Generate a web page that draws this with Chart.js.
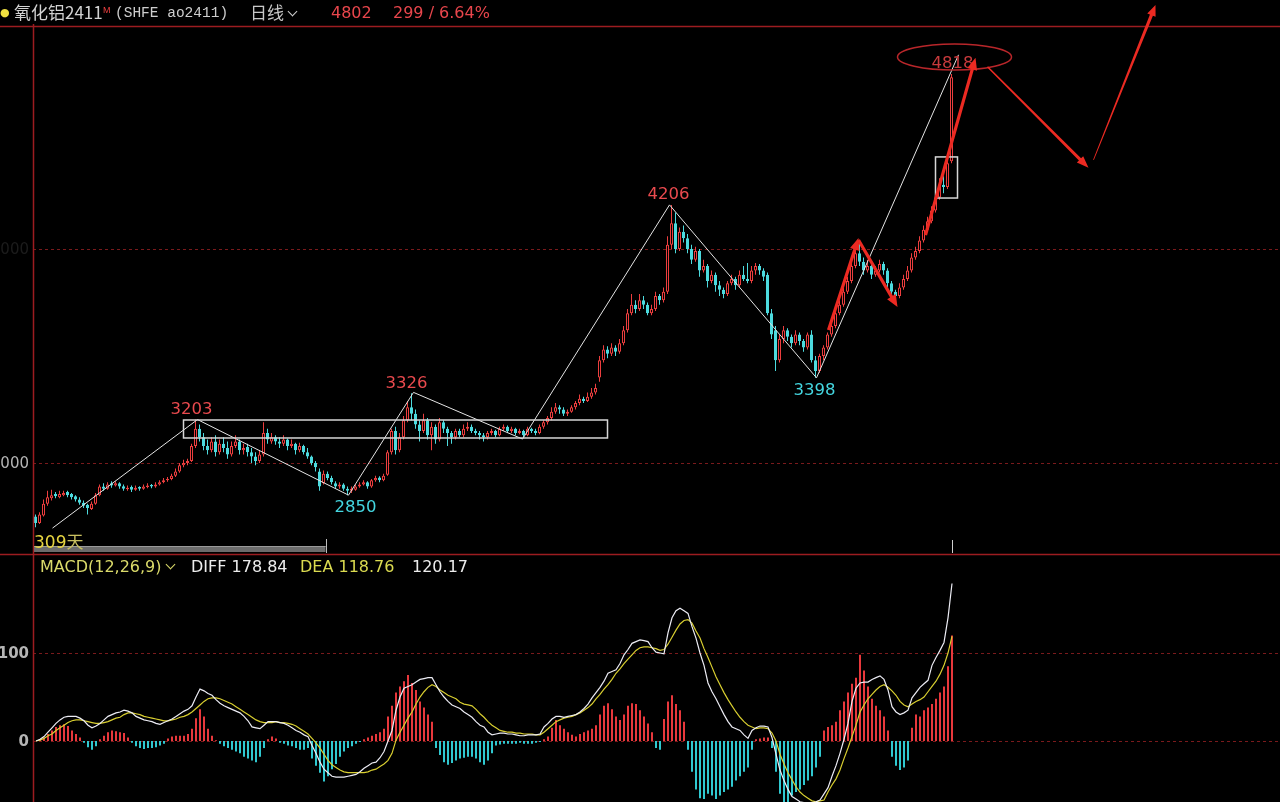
<!DOCTYPE html>
<html><head><meta charset="utf-8">
<script src="https://cdn.jsdelivr.net/npm/chart.js@4/dist/chart.umd.min.js"></script>
<style>
html,body{margin:0;padding:0;background:#000;width:1280px;height:802px;overflow:hidden;}
#wrap{position:relative;width:1280px;height:802px;background:#000;}
canvas{position:absolute;left:0;top:0;}
.t{position:absolute;white-space:nowrap;font-family:"DejaVu Sans";font-size:16px;line-height:18px;}
.chev{display:inline-block;width:6px;height:6px;border-right:1.5px solid #cfcfcf;border-bottom:1.5px solid #cfcfcf;transform:rotate(45deg);margin-left:5px;position:relative;top:-4px;}
</style></head><body>
<div id="wrap">
<canvas id="main" width="1280" height="802"></canvas>
<canvas id="macd" width="1280" height="802"></canvas>
<div class="t" style="left:0px;top:4px;color:#f0e040;font-size:11px;">●</div>
<div class="t" style="left:14px;top:3px;color:#d2d2d2;font-family:'Noto Sans CJK SC';font-size:17px;">氧化铝2411</div>
<div class="t" style="left:103px;top:1px;color:#ee4040;font-family:'Liberation Sans';font-size:9px;">M</div>
<div class="t" style="left:115px;top:4px;color:#cdcdcd;font-family:'Liberation Mono';font-size:14.5px;">(SHFE ao2411)</div>
<div class="t" style="left:250px;top:3px;color:#c8c8c8;font-family:'Noto Sans CJK SC';font-size:17px;">日线<span class="chev"></span></div>
<div class="t" style="left:331px;top:4px;color:#e8464c;">4802</div>
<div class="t" style="left:393px;top:4px;color:#e8464c;">299 / 6.64%</div>
<div class="t" style="left:40px;top:558px;color:#dada6a;">MACD(12,26,9)<span class="chev" style="border-color:#dada6a;"></span></div>
<div class="t" style="left:191px;top:558px;color:#ececec;">DIFF 178.84</div>
<div class="t" style="left:300px;top:558px;color:#dada50;">DEA 118.76</div>
<div class="t" style="left:412px;top:558px;color:#ececec;">120.17</div>
<div class="t" style="left:34px;top:532px;color:#e6d440;font-size:17px;">309<span style="font-family:'Noto Sans CJK SC';color:#c9c060;">天</span></div>
</div>
<script>
// ---- candle data (daily OHLC) ----
const opens = [
2750,2720,2755,2810,2835,2855,2840,2850,2865,2855,
2845,2830,2815,2805,2785,2810,2850,2890,2880,2905,
2895,2905,2892,2878,2888,2875,2888,2880,2888,2897,
2890,2900,2910,2920,2925,2940,2960,2990,3000,3010,
3080,3160,3120,3080,3060,3100,3050,3090,3070,3040,
3080,3100,3060,3075,3050,3030,3010,3040,3140,3100,
3120,3100,3090,3110,3080,3090,3060,3080,3050,3030,
3000,2960,2905,2950,2930,2905,2890,2900,2880,2870,
2875,2890,2900,2910,2890,2920,2932,2920,2945,3050,
3150,3060,3120,3200,3260,3230,3180,3150,3200,3130,
3170,3110,3190,3160,3140,3120,3150,3130,3160,3170,
3150,3140,3130,3120,3140,3150,3130,3160,3170,3150,
3160,3140,3150,3130,3160,3150,3140,3170,3190,3210,
3240,3260,3250,3230,3240,3260,3280,3300,3290,3310,
3330,3400,3480,3530,3510,3540,3520,3560,3620,3700,
3740,3720,3760,3740,3700,3720,3780,3760,3800,4020,
4120,4000,4080,4050,4000,3950,3990,3900,3920,3850,
3880,3830,3810,3790,3840,3860,3830,3880,3860,3850,
3900,3920,3900,3880,3700,3620,3480,3580,3620,3590,
3560,3600,3570,3540,3600,3480,3430,3500,3540,3600,
3640,3700,3740,3800,3850,3920,3980,3940,3900,3920,
3880,3900,3930,3900,3840,3800,3780,3820,3860,3900,
3960,3990,4040,4090,4130,4180,4240,4300,4290,4410];
const highs = [
2760,2770,2830,2870,2875,2865,2870,2870,2870,2860,
2850,2840,2825,2810,2820,2860,2900,2905,2910,2915,
2915,2910,2900,2895,2895,2895,2892,2900,2905,2902,
2910,2920,2930,2935,2950,2975,3000,3015,3020,3090,
3203,3180,3140,3110,3120,3130,3110,3120,3100,3100,
3130,3110,3090,3090,3070,3050,3060,3190,3160,3140,
3130,3120,3130,3115,3110,3095,3095,3085,3070,3035,
3010,2975,2965,2960,2940,2915,2910,2905,2890,2890,
2900,2910,2920,2915,2925,2940,2938,2950,3060,3160,
3170,3140,3220,3290,3326,3250,3200,3230,3210,3190,
3180,3210,3200,3170,3150,3160,3160,3180,3190,3180,
3160,3150,3140,3150,3160,3155,3170,3180,3175,3170,
3165,3160,3155,3170,3165,3160,3180,3200,3220,3260,
3280,3270,3260,3250,3270,3290,3320,3310,3330,3350,
3370,3500,3550,3545,3560,3550,3580,3640,3720,3790,
3760,3790,3780,3750,3740,3800,3790,3820,4060,4206,
4170,4100,4110,4070,4020,4010,4000,3950,3930,3900,
3890,3850,3820,3850,3880,3870,3900,3920,3935,3920,
3935,3930,3910,3890,3720,3640,3600,3640,3630,3600,
3620,3610,3580,3610,3620,3500,3510,3550,3610,3660,
3720,3760,3820,3870,3940,4010,4040,3960,3950,3930,
3920,3950,3940,3910,3850,3810,3840,3880,3920,3980,
4010,4060,4110,4150,4200,4260,4330,4340,4420,4818];
const lows = [
2700,2715,2750,2800,2825,2835,2835,2845,2840,2830,
2820,2805,2790,2760,2780,2805,2845,2870,2875,2885,
2890,2880,2870,2870,2865,2870,2870,2875,2882,2882,
2885,2895,2905,2912,2920,2935,2955,2980,2990,3005,
3070,3100,3060,3040,3050,3030,3040,3050,3020,3030,
3070,3040,3040,3030,3000,2990,3000,3030,3090,3090,
3085,3070,3080,3060,3070,3040,3050,3040,3020,2990,
2960,2870,2900,2920,2900,2880,2880,2870,2850,2860,
2870,2885,2895,2880,2885,2912,2910,2915,2940,3040,
3040,3050,3110,3190,3200,3160,3100,3140,3110,3060,
3090,3100,3140,3080,3090,3110,3120,3120,3150,3140,
3130,3110,3100,3110,3130,3120,3125,3150,3140,3140,
3130,3135,3120,3125,3140,3130,3135,3160,3180,3200,
3230,3230,3220,3220,3235,3250,3270,3280,3285,3300,
3320,3380,3470,3490,3500,3500,3510,3550,3610,3690,
3700,3710,3720,3690,3690,3710,3740,3750,3790,4000,
3980,3990,4030,3980,3930,3940,3870,3890,3820,3840,
3800,3780,3770,3780,3830,3810,3820,3850,3840,3840,
3880,3880,3850,3690,3580,3430,3470,3560,3570,3540,
3550,3550,3520,3530,3470,3398,3420,3480,3530,3590,
3630,3690,3730,3790,3840,3910,3920,3880,3890,3860,
3870,3890,3880,3820,3780,3740,3770,3810,3850,3890,
3950,3980,4030,4080,4120,4170,4230,4260,4280,4400];
const closes = [
2720,2760,2810,2840,2850,2845,2855,2860,2850,2840,
2830,2815,2800,2790,2810,2850,2890,2880,2900,2895,
2905,2890,2880,2885,2875,2885,2880,2890,2895,2890,
2900,2910,2920,2925,2940,2960,2990,3000,3010,3080,
3160,3120,3080,3060,3100,3050,3090,3070,3040,3080,
3100,3060,3070,3050,3030,3010,3040,3140,3110,3120,
3100,3090,3110,3080,3090,3060,3080,3050,3030,3000,
2980,2890,2950,2930,2910,2890,2900,2880,2870,2880,
2890,2900,2910,2890,2920,2930,2920,2940,3050,3150,
3060,3120,3200,3260,3230,3180,3150,3200,3130,3170,
3110,3190,3160,3140,3120,3150,3130,3160,3170,3150,
3140,3130,3120,3140,3150,3130,3160,3170,3150,3160,
3140,3150,3130,3160,3150,3140,3170,3190,3210,3240,
3260,3250,3230,3240,3260,3280,3300,3290,3310,3330,
3350,3480,3530,3510,3540,3520,3560,3620,3700,3740,
3720,3760,3740,3700,3720,3780,3760,3800,4020,4120,
4000,4080,4050,4000,3950,3990,3900,3920,3850,3880,
3830,3810,3790,3840,3860,3830,3880,3860,3850,3900,
3920,3900,3870,3700,3600,3480,3580,3620,3590,3560,
3600,3570,3540,3600,3480,3430,3500,3540,3600,3640,
3700,3740,3800,3850,3920,3980,3940,3900,3920,3880,
3900,3930,3900,3840,3800,3780,3820,3860,3900,3960,
3990,4040,4090,4130,4180,4240,4300,4290,4400,4802];
// ---- MACD(12,26,9) values ----
const diffVals = [
0,2,5,10,15,20,24,27,28,28,
28,26,23,18,15,17,20,24,28,30,
32,33,35,34,32,28,26,24,23,22,
20,19,21,23,25,28,31,34,36,40,
50,59,57,54,52,47,43,40,38,36,
34,32,28,23,16,15,14,18,22,22,
22,21,20,18,15,12,10,7,5,-5,
-14,-24,-32,-36,-40,-41,-41,-41,-40,-39,
-38,-35,-31,-28,-25,-24,-19,-12,0,12,
35,50,60,62,64,67,70,71,72,72,
64,56,50,45,41,39,37,33,30,27,
22,18,16,10,7,8,9,9,8,8,
7,6,6,7,7,7,8,16,20,25,
28,28,27,28,29,30,33,37,42,49,
55,61,68,77,79,81,88,98,104,111,
113,115,114,113,106,101,100,99,123,140,
148,151,148,145,130,117,100,86,66,56,
48,39,30,22,16,14,12,7,3,12,
15,17,17,16,4,-15,-33,-45,-55,-63,
-66,-69,-70,-70,-70,-69,-67,-60,-53,-40,
-28,-14,2,20,45,60,66,67,67,70,
72,74,70,58,39,33,30,32,35,49,
55,61,65,69,86,95,103,112,140,179];
const deaVals = [
0,1,3,6,8,12,15,18,21,23,
24,24,23,22,21,20,20,21,22,24,
26,27,30,32,32,31,30,28,27,26,
25,24,23,23,24,25,27,28,30,33,
37,41,45,48,49,49,48,46,44,42,
39,36,33,30,27,24,22,21,21,21,
22,21,21,20,19,17,14,11,8,3,
-2,-8,-15,-22,-27,-30,-33,-35,-36,-36,
-36,-36,-36,-35,-33,-32,-29,-26,-22,-14,
1,10,18,26,33,42,50,56,61,64,
62,58,55,52,50,48,44,42,41,40,
36,31,27,22,18,15,12,11,10,10,
9,9,8,8,8,7,7,10,14,18,
22,24,26,27,28,30,32,35,38,42,
48,53,59,64,70,77,82,88,93,98,
103,106,107,107,106,105,103,104,110,118,
126,133,137,138,134,125,117,105,95,84,
73,64,55,47,40,33,27,22,18,16,
14,15,15,14,9,0,-15,-26,-36,-44,
-52,-58,-62,-65,-68,-69,-68,-67,-58,-50,
-43,-33,-20,-8,5,18,33,41,48,53,
58,62,64,61,57,52,45,41,39,42,
45,47,50,56,62,68,76,86,100,119];
const macdHist = [
0,2,4,8,12,16,18,19,17,12,
8,4,-2,-7,-10,-6,2,6,10,12,
11,10,9,4,-2,-6,-8,-9,-8,-8,
-7,-5,-3,3,5,6,6,6,8,14,
26,36,28,14,6,1,-3,-6,-8,-10,
-12,-14,-18,-20,-22,-24,-18,-8,2,5,
3,-2,-3,-5,-6,-8,-10,-10,-8,-20,
-28,-36,-46,-40,-32,-26,-18,-12,-8,-6,
-3,-1,2,4,6,8,10,14,28,40,
55,62,68,75,66,58,45,38,30,22,
-8,-16,-24,-27,-25,-22,-20,-19,-18,-18,
-20,-24,-27,-22,-14,-5,-4,-3,-3,-3,
-3,-2,-3,-3,-3,-2,-1,2,5,15,
24,18,14,10,7,5,8,10,12,14,
18,30,40,43,36,28,24,30,40,43,
42,35,28,20,10,-8,-10,25,45,52,
42,35,22,-10,-35,-55,-65,-66,-60,-62,
-66,-62,-58,-55,-52,-45,-40,-35,-30,-10,
2,3,4,4,-8,-35,-60,-70,-70,-62,
-58,-55,-50,-45,-40,-30,-18,12,16,18,
22,35,45,55,65,72,98,80,62,48,
40,35,28,12,-18,-28,-33,-30,-22,15,
30,28,35,38,42,48,55,62,85,120];
// ---- axis ticks ----
const priceTicks = [3000, 4000];
const macdTicks = [0, 100];
// ---- annotations (data coordinates: bar index, price) ----
const zigIdx   = [4.25, 40.5, 78.25, 94.5, 121.75, 158.5, 195.25, 230.75];
const zigPrice = [2696, 3203, 2850, 3330, 3112, 4206, 3398, 4907];
const pivotIdx   = [39, 80, 92.75, 158.25, 194.75, 229.25];
const pivotPrice = [3203, 2850, 3326, 4206, 3398, 4818];
const pivotIsHigh = [true, false, true, true, false, true];
const boxFromIdx = [37, 225];
const boxToIdx   = [143, 230.5];
const boxLow     = [3117, 4238];
const boxHigh    = [3201, 4430];
const arrowFromIdx   = [198.25, 205.75, 222.5, 238, 264.5];
const arrowFromPrice = [3621, 4042, 4065, 4851, 4416];
const arrowToIdx     = [205.75, 215.5, 235, 263.25, 280];
const arrowToPrice   = [4051, 3729, 4893, 4379, 5140];
const ellipseIdx = 229.75, ellipsePrice = 4897, ellipseHalfIdx = 14.25, ellipseHalfPrice = 61;
const rangeEndIdx = 72.5;

const RED = '#ec3e3e', CYAN = '#4cdade', FRAME = '#9c1c20', DASH = '#7a1a1c';
const HRED = '#e8383c', HCYAN = '#30c8d0';
const N = closes.length;
const xScale = {type:'linear', min:-0.625, max:311.125, display:false, offset:false};
const xScaleMacd = {type:'linear', min:-0.75, max:311.0, display:false, offset:false};

function drawArrow(ctx, x1, y1, x2, y2, w0, w1, head, headW){
  const dx = x2-x1, dy = y2-y1, L = Math.hypot(dx,dy), ux = dx/L, uy = dy/L, nx = -uy, ny = ux;
  const bx = x2-ux*head, by = y2-uy*head;
  ctx.beginPath();
  ctx.moveTo(x1+nx*w0/2, y1+ny*w0/2);
  ctx.lineTo(bx+nx*w1/2, by+ny*w1/2);
  ctx.lineTo(bx+nx*headW/2, by+ny*headW/2);
  ctx.lineTo(x2, y2);
  ctx.lineTo(bx-nx*headW/2, by-ny*headW/2);
  ctx.lineTo(bx-nx*w1/2, by-ny*w1/2);
  ctx.lineTo(x1-nx*w0/2, y1-ny*w0/2);
  ctx.closePath();
  ctx.fill();
}

const decorMain = {
  id:'decorMain',
  beforeDatasetsDraw(chart){
    const {ctx, chartArea:a, scales:{x,y}} = chart;
    ctx.save();
    ctx.strokeStyle = DASH; ctx.lineWidth = 1; ctx.setLineDash([3,3]);
    priceTicks.forEach(v=>{ const py = Math.round(y.getPixelForValue(v))+0.5; ctx.beginPath(); ctx.moveTo(a.left, py); ctx.lineTo(a.right, py); ctx.stroke(); });
    ctx.setLineDash([]);
    ctx.font = '15px "DejaVu Sans"'; ctx.textAlign = 'right'; ctx.textBaseline = 'middle';
    priceTicks.forEach((v,k)=>{ ctx.fillStyle = k===0 ? '#b4b4b4' : '#1c1c1c'; ctx.fillText(String(v), a.left-4, y.getPixelForValue(v)+1); });
    ctx.restore();
  },
  afterDatasetsDraw(chart){
    const {ctx, chartArea:a, scales:{x,y}} = chart;
    ctx.save();
    // frame
    ctx.strokeStyle = FRAME; ctx.lineWidth = 1.5;
    ctx.beginPath(); ctx.moveTo(0, a.top-0.5); ctx.lineTo(1280, a.top-0.5); ctx.stroke();
    ctx.beginPath(); ctx.moveTo(0, a.bottom+0.5); ctx.lineTo(1280, a.bottom+0.5); ctx.stroke();
    ctx.beginPath(); ctx.moveTo(a.left+0.5, a.top-3); ctx.lineTo(a.left+0.5, a.bottom); ctx.stroke();
    // range bar
    const rx = x.getPixelForValue(rangeEndIdx);
    ctx.fillStyle = '#6c6c6c'; ctx.fillRect(a.left+1, a.bottom-8, rx-a.left-1, 6);
    ctx.fillStyle = '#9a9a9a'; ctx.fillRect(a.left+1, a.bottom-8, rx-a.left-1, 1);
    ctx.fillStyle = '#bdbdbd'; ctx.fillRect(Math.round(rx), a.bottom-15, 1, 14);
    ctx.fillStyle = '#cfcfcf'; ctx.fillRect(Math.round(x.getPixelForValue(N-1)), a.bottom-14, 1, 13);
    // boxes
    ctx.strokeStyle = '#d6d6d6'; ctx.lineWidth = 1.5;
    boxFromIdx.forEach((b,k)=>{
      const x0 = x.getPixelForValue(b), x1 = x.getPixelForValue(boxToIdx[k]);
      const y0 = y.getPixelForValue(boxHigh[k]), y1 = y.getPixelForValue(boxLow[k]);
      ctx.strokeRect(x0, y0, x1-x0, y1-y0);
    });
    // ellipse
    const ex = x.getPixelForValue(ellipseIdx), ey = y.getPixelForValue(ellipsePrice);
    const erx = x.getPixelForValue(ellipseIdx+ellipseHalfIdx)-ex, ery = y.getPixelForValue(ellipsePrice-ellipseHalfPrice)-ey;
    ctx.strokeStyle = '#b8262a'; ctx.lineWidth = 1.5;
    ctx.beginPath(); ctx.ellipse(ex, ey, erx, ery, 0, 0, Math.PI*2); ctx.stroke();
    // pivot labels
    ctx.font = '16.5px "DejaVu Sans"'; ctx.textAlign = 'center'; ctx.textBaseline = 'middle';
    pivotIdx.forEach((p,k)=>{
      const px = x.getPixelForValue(p), py = y.getPixelForValue(pivotPrice[k]);
      const last = k === pivotIdx.length-1;
      ctx.fillStyle = pivotIsHigh[k] ? (last ? '#c83a3c' : '#ea4a4e') : '#44d6e0';
      ctx.fillText(String(pivotPrice[k]), px, pivotIsHigh[k] ? py-10 : py+13);
    });
    // arrows
    ctx.fillStyle = '#ec2a22';
    arrowFromIdx.forEach((f,k)=>{
      const x1 = x.getPixelForValue(f), y1 = y.getPixelForValue(arrowFromPrice[k]);
      const x2 = x.getPixelForValue(arrowToIdx[k]), y2 = y.getPixelForValue(arrowToPrice[k]);
      if (k === 4) drawArrow(ctx, x1, y1, x2, y2, 0.8, 3.2, 11, 9);
      else if (k === 3) drawArrow(ctx, x1, y1, x2, y2, 1.5, 3, 12, 9);
      else drawArrow(ctx, x1, y1, x2, y2, 3.2, 3.2, 12, 10);
    });
    ctx.restore();
  }
};

const decorMacd = {
  id:'decorMacd',
  beforeDatasetsDraw(chart){
    const {ctx, chartArea:a, scales:{y}} = chart;
    ctx.save();
    ctx.strokeStyle = DASH; ctx.lineWidth = 1; ctx.setLineDash([3,3]);
    macdTicks.forEach(v=>{ const py = Math.round(y.getPixelForValue(v))+0.5; ctx.beginPath(); ctx.moveTo(a.left, py); ctx.lineTo(a.right, py); ctx.stroke(); });
    ctx.setLineDash([]);
    ctx.font = 'bold 15px "DejaVu Sans"'; ctx.textAlign = 'right'; ctx.textBaseline = 'middle'; ctx.fillStyle = '#b4b4b4';
    macdTicks.forEach(v=> ctx.fillText(String(v), a.left-4, y.getPixelForValue(v)+1));
    ctx.strokeStyle = FRAME; ctx.lineWidth = 1.5;
    ctx.beginPath(); ctx.moveTo(a.left+0.5, a.top-1); ctx.lineTo(a.left+0.5, a.bottom); ctx.stroke();
    ctx.restore();
  }
};

const common = {responsive:false, animation:false, devicePixelRatio:1, events:[],
  plugins:{legend:{display:false}, tooltip:{enabled:false}, colors:{enabled:false}}};

const up = closes.map((c,i)=> c >= opens[i]);
new Chart(document.getElementById('main'), {
  type:'bar',
  data:{datasets:[
    {type:'line', data: zigIdx.map((v,k)=>({x:v, y:zigPrice[k]})), borderColor:'#e4e4e4', borderWidth:1,
     pointRadius:0, tension:0, order:0},
    {data: closes.map((c,i)=>({x:i, y:[opens[i], c]})), barThickness:3, grouped:false, order:1,
     backgroundColor: up.map(u=> u ? '#000' : CYAN), borderColor: up.map(u=> u ? RED : CYAN),
     borderWidth:1, borderSkipped:false, inflateAmount:0},
    {data: closes.map((c,i)=>({x:i, y:[lows[i], highs[i]]})), barThickness:1, grouped:false, order:2,
     backgroundColor: up.map(u=> u ? RED : CYAN), borderWidth:0, inflateAmount:0}
  ]},
  options:Object.assign({}, common, {
    layout:{padding:{left:33, top:27, right:0, bottom:248}},
    scales:{x:xScale, y:{type:'linear', min:2575, max:5037, display:false}}
  }),
  plugins:[decorMain]
});

const histPts = macdHist.map((v,i)=>({x:i, y:v}));
new Chart(document.getElementById('macd'), {
  type:'bar',
  data:{datasets:[
    {type:'line', data: diffVals.map((v,i)=>({x:i, y:v})), borderColor:'#ececf4', backgroundColor:'#ececf4', borderWidth:1.2, pointRadius:0, tension:0, order:0},
    {type:'line', data: deaVals.map((v,i)=>({x:i, y:v})), borderColor:'#d8ce30', backgroundColor:'#d8ce30', borderWidth:1.2, pointRadius:0, tension:0, order:1},
    {data: histPts.filter(p=> p.y >= 0), barThickness:2, grouped:false, order:2,
     backgroundColor: HRED, borderColor: HRED, borderWidth:0, inflateAmount:0},
    {data: histPts.filter(p=> p.y < 0), barThickness:2, grouped:false, order:2,
     backgroundColor: HCYAN, borderColor: HCYAN, borderWidth:0, inflateAmount:0}
  ]},
  options:Object.assign({}, common, {
    layout:{padding:{left:33, top:555, right:0, bottom:0}},
    scales:{x:xScaleMacd, y:{type:'linear', min:-69.3, max:211.4, display:false}}
  }),
  plugins:[decorMacd]
});
</script>
</body></html>
